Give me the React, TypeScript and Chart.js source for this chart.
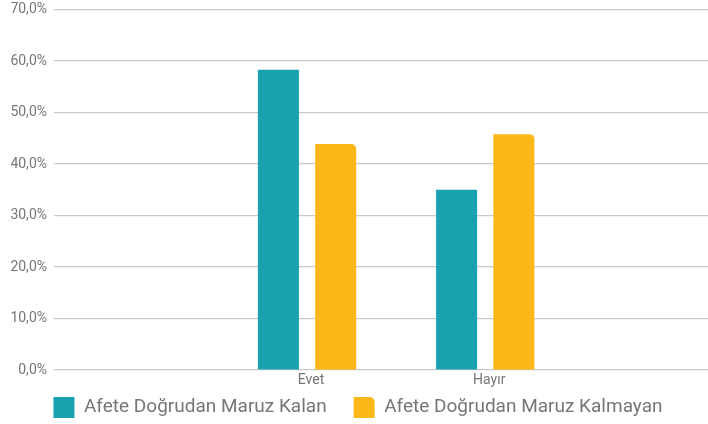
import React, { useEffect, useRef } from "react";
import { Chart, registerables } from "chart.js";

Chart.register(...registerables);

const categories = ["Evet", "Hayır"];
const categoryPositions = [1, 2];
const seriesNames = ["Afete Doğrudan Maruz Kalan", "Afete Doğrudan Maruz Kalmayan"];
const exposedValues = [58.3, 35.0];
const notExposedValues = [43.9, 45.8];
const yTicks = [0, 10, 20, 30, 40, 50, 60, 70];

const TEAL = "#1AA1B0";
const ORANGE = "#FCB718";
const TEXT = "#767676";
const FONT = "Roboto, 'Open Sans', sans-serif";

export default function App() {
  const ref = useRef<HTMLCanvasElement | null>(null);

  useEffect(() => {
    if (!ref.current) return;
    const chart = new Chart(ref.current, {
      type: "bar",
      data: {
        datasets: [
          {
            label: seriesNames[0],
            data: categoryPositions.map((x, i) => ({ x, y: exposedValues[i] })),
            backgroundColor: TEAL,
            borderWidth: 0,
          },
          {
            label: seriesNames[1],
            data: categoryPositions.map((x, i) => ({ x, y: notExposedValues[i] })),
            backgroundColor: ORANGE,
            borderWidth: 0,
            borderRadius: { topLeft: 0, topRight: 5, bottomLeft: 0, bottomRight: 0 },
            borderSkipped: "bottom",
          },
        ],
      },
      options: {
        responsive: false,
        animation: false,
        devicePixelRatio: 1,
        categoryPercentage: 0.643,
        barPercentage: 0.716,
        layout: { padding: { top: 0, right: 0, bottom: 0, left: 8 } },
        plugins: {
          tooltip: { enabled: false },
          legend: {
            position: "bottom",
            maxHeight: 54,
            labels: {
              boxWidth: 21,
              boxHeight: 21,
              padding: 27,
              color: TEXT,
              useBorderRadius: true,
              font: { family: FONT, size: 19 },
            },
          },
        },
        scales: {
          x: {
            type: "linear",
            min: -0.42,
            max: 3.25,
            offset: false,
            grid: { display: false, drawTicks: false },
            border: { display: false },
            afterBuildTicks: (scale: any) => {
              scale.ticks = categoryPositions.map((v) => ({ value: v }));
            },
            afterFit: (scale: any) => {
              scale.height = 0;
            },
            ticks: {
              color: TEXT,
              font: { family: FONT, size: 14 },
              mirror: true,
              padding: -18.5,
              labelOffset: 4,
              autoSkip: false,
              maxRotation: 0,
              callback: (v: any) => {
                const i = categoryPositions.indexOf(Number(v));
                return i >= 0 ? categories[i] : "";
              },
            },
          },
          y: {
            min: 0,
            max: 70,
            afterBuildTicks: (scale: any) => {
              scale.ticks = yTicks.map((v) => ({ value: v }));
            },
            afterFit: (scale: any) => {
              scale.width = 46;
              scale.paddingTop = 9.5;
              scale.paddingBottom = 0;
            },
            grid: { color: "#c9c9c9", lineWidth: 1.2, drawTicks: false },
            border: { display: false },
            ticks: {
              color: TEXT,
              padding: 7,
              font: { family: FONT, size: 14, lineHeight: 1 },
              callback: (v: any) => Number(v).toFixed(1).replace(".", ",") + "%",
            },
          },
        },
      },
    });
    return () => chart.destroy();
  }, []);

  return (
    <div style={{ position: "absolute", left: 0, top: 0, width: 708, height: 424, background: "#fff" }}>
      <canvas ref={ref} width={708} height={424} />
    </div>
  );
}
